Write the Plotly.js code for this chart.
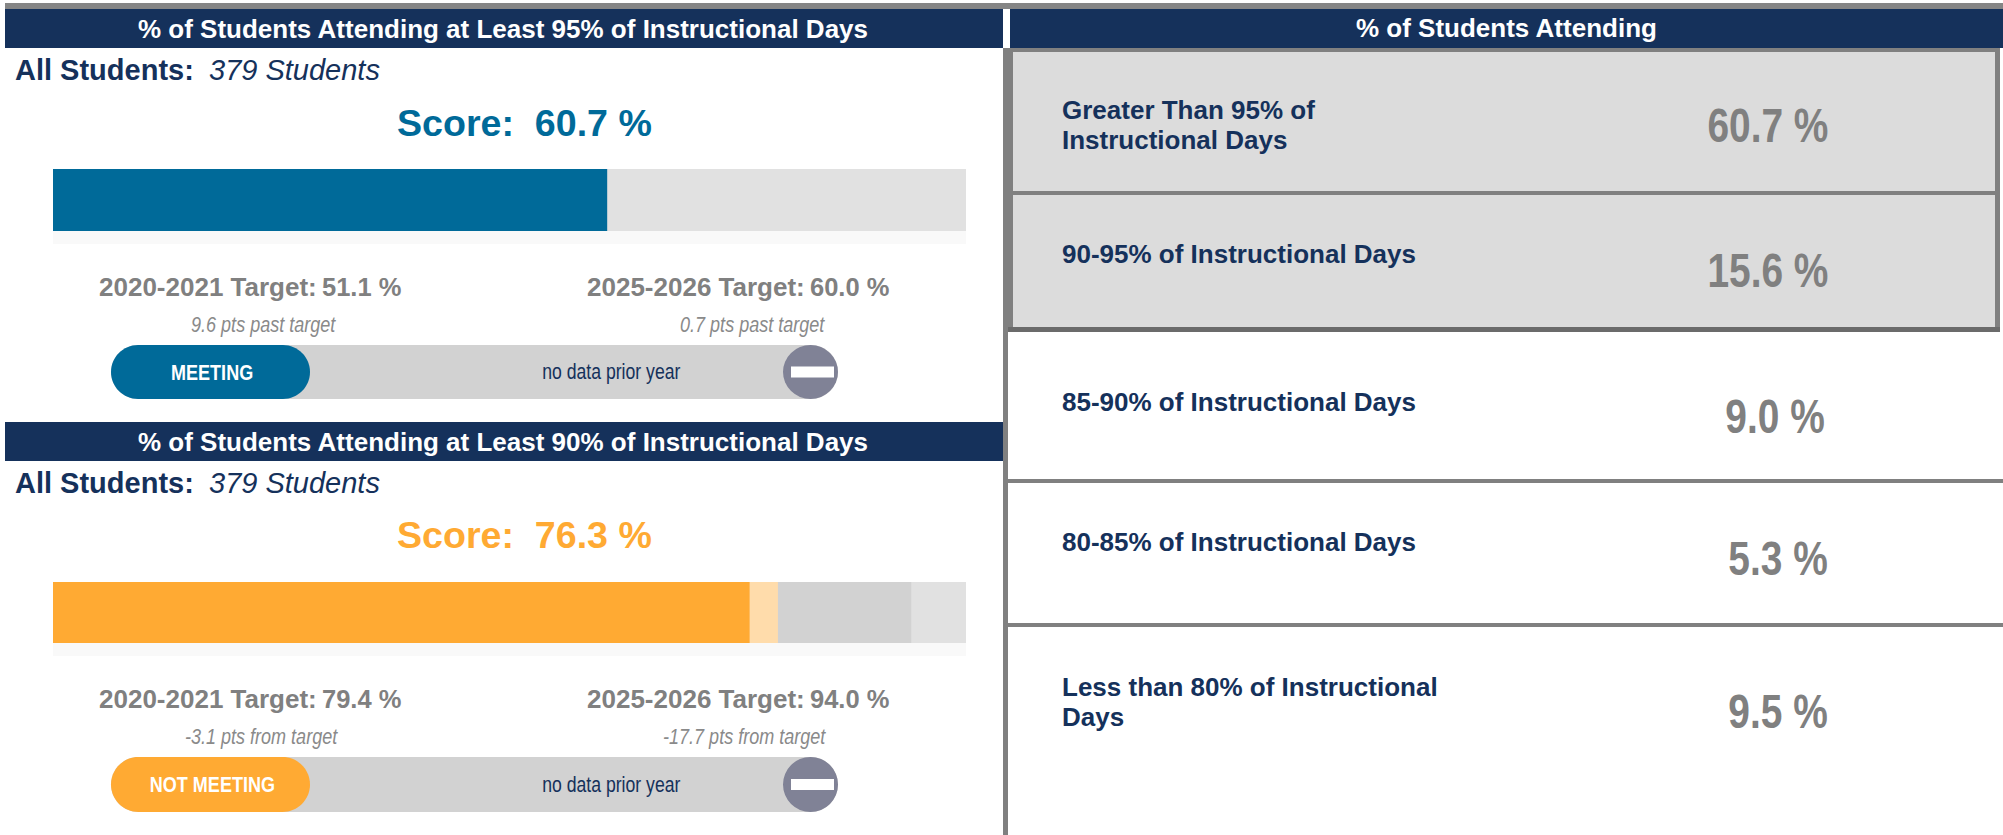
<!DOCTYPE html>
<html><head><meta charset="utf-8">
<script src="https://cdn.plot.ly/plotly-3.0.1.min.js"></script>
<style>html,body{margin:0;padding:0;background:#fff;overflow:hidden}#c{width:2003px;height:835px}</style>
</head><body><div id="c"></div>
<script>
var panelTitles = ['% of Students Attending at Least 95% of Instructional Days','% of Students Attending at Least 90% of Instructional Days'];
var groupLabel = 'All Students:';
var groupCount = '379 Students';
var scores = [60.7, 76.3];
var target2021 = [51.1, 79.4];
var target2026 = [60.0, 94.0];
var scale = [100, 100];
var deltaNotes2021 = ['9.6 pts past target','-3.1 pts from target'];
var deltaNotes2026 = ['0.7 pts past target','-17.7 pts from target'];
var statuses = ['MEETING','NOT MEETING'];
var priorNote = 'no data prior year';
var tableTitle = '% of Students Attending';
var bandLabels = [['Greater Than 95% of','Instructional Days'],['90-95% of Instructional Days'],['85-90% of Instructional Days'],['80-85% of Instructional Days'],['Less than 80% of Instructional','Days']];
var bandValues = [60.7, 15.6, 9.0, 5.3, 9.5];

var W=2003,H=835,NAVY='#15315b',GREY='#808080';
var accent=['#006a99','#ffaa33'], accentLight=['#006a99','#ffdcab'];
var PX=function(x){return x/W}, PY=function(y){return 1-y/H};
var shapes=[],ann=[],narrow=[];
function rect(x0,y0,x1,y1,c,layer){shapes.push({type:'rect',xref:'paper',yref:'paper',x0:PX(x0),x1:PX(x1),y0:PY(y0),y1:PY(y1),fillcolor:c,line:{width:0},layer:layer||'below'});}
function pill(x0,y0,x1,y1,c){var r=(y1-y0)/2,k=r*0.45,f=function(x,y){return PX(x)+','+PY(y)};
 shapes.push({type:'path',xref:'paper',yref:'paper',fillcolor:c,line:{width:0},layer:'below',path:
 'M'+f(x0+r,y0)+' L'+f(x1-r,y0)+' C'+f(x1-k,y0)+' '+f(x1,y0+k)+' '+f(x1,y0+r)+' C'+f(x1,y1-k)+' '+f(x1-k,y1)+' '+f(x1-r,y1)+' L'+f(x0+r,y1)+' C'+f(x0+k,y1)+' '+f(x0,y1-k)+' '+f(x0,y0+r)+' C'+f(x0,y0+k)+' '+f(x0+k,y0)+' '+f(x0+r,y0)+' Z'});}
function circle(x0,y0,x1,y1,c){shapes.push({type:'circle',xref:'paper',yref:'paper',x0:PX(x0),x1:PX(x1),y0:PY(y0),y1:PY(y1),fillcolor:c,line:{width:0},layer:'below'});}
function txt(t,x,y,size,color,anchor,squeeze){anchor=anchor||'center';
 if(squeeze)narrow.push({i:ann.length,a:anchor,s:squeeze});
 ann.push({text:t,xref:'paper',yref:'paper',x:PX(x),y:PY(y),xanchor:anchor,yanchor:'middle',showarrow:false,borderpad:0,
 font:{family:'"Liberation Sans", Arial, sans-serif',size:size,color:color}});}
var N=0.82;

// frame
rect(5,3,W,9,'#858585');
var panelY=[{head:[9,48],all:70,score:123,bar:[169,231],band:244,tgt:287,sub:324,pill:[345,399]},
            {head:[422,461],all:483,score:535,bar:[582,643],band:656,tgt:699,sub:736,pill:[757,812]}];
var BX0=53,BX1=966;
var traces=[];
panelY.forEach(function(p,i){
  rect(5,p.head[0],1003,p.head[1],NAVY);
  txt('<b>'+panelTitles[i]+'</b>',503,(p.head[0]+p.head[1])/2,26,'#fff');
  txt('<b>'+groupLabel+'</b>',14,p.all,29,NAVY,'left');
  txt('<i>'+groupCount+'</i>',208,p.all,29,NAVY,'left');
  txt('<b>Score:  '+scores[i].toFixed(1)+' %</b>',524,p.score,37.6,accent[i]);
  rect(BX0,p.bar[1],BX1,p.band,'#f9f9f9');
  txt('<b>2020-2021 Target:</b>',97.5,p.tgt,26,GREY,'left');
  txt('<b>'+target2021[i].toFixed(1)+' %</b>',320.5,p.tgt,25.5,GREY,'left');
  txt('<b>2025-2026 Target:</b>',585.5,p.tgt,26,GREY,'left');
  txt('<b>'+target2026[i].toFixed(1)+' %</b>',808.5,p.tgt,25.5,GREY,'left');
  txt('<i>'+deltaNotes2021[i]+'</i>',i?261.5:263.5,p.sub,22,'#8a8a8a','center',N);
  txt('<i>'+deltaNotes2026[i]+'</i>',i?744.5:752,p.sub,22,'#8a8a8a','center',N);
  pill(111,p.pill[0],838,p.pill[1],'#d2d2d2');
  pill(111,p.pill[0],310,p.pill[1],accent[i]);
  circle(783,p.pill[0],838,p.pill[1],'#808296');
  var my=(p.pill[0]+p.pill[1])/2;
  rect(791,my-5.5,834,my+5.5,'#fff');
  txt('<b>'+statuses[i]+'</b>',212,my,22,'#fff','center',N);
  txt(priorNote,611,my,21.5,NAVY,'center',N);
  var xa=i?'x2':'x',ya=i?'y2':'y';
  [[scale,'#e1e1e1'],[target2026,'#d2d2d2'],[target2021,accentLight[i]],[scores,accent[i]]].forEach(function(l){
    traces.push({type:'bar',orientation:'h',x:[l[0][i]],y:['score'],xaxis:xa,yaxis:ya,width:1,
      marker:{color:l[1],opacity:1,line:{width:0}},hoverinfo:'skip',showlegend:false});
  });
});

// right table
rect(1003,48,1008,H,'#808080');
rect(1010,9,W,48,NAVY);
txt('<b>'+tableTitle+'</b>',1506,28,26,'#fff');
rect(1008,48,2000,332,'#808080');
rect(1008,327,2000,332,'#6b6b6b');
rect(1013,52,1995,191,'#dcdcdc');
rect(1013,195,1995,327,'#dcdcdc');
rect(1008,479,W,483,'#808080');
rect(1008,623,W,627,'#808080');
var labelY=[[110,140],[254],[402],[542],[687,717]];
var valueY=[126,270,416,558,711];
var valueR=[1829,1829,1826,1829,1829];
bandLabels.forEach(function(lines,i){
  lines.forEach(function(s,j){txt('<b>'+s+'</b>',1061,labelY[i][j],26,NAVY,'left');});
  txt('<b>'+bandValues[i].toFixed(1)+' %</b>',valueR[i],valueY[i],48,GREY,'right',0.81);
});

function ax(dom,rng){return {domain:dom,range:rng,visible:false,fixedrange:true};}
var layout={width:W,height:H,margin:{l:0,r:0,t:0,b:0,pad:0},paper_bgcolor:'#fff',plot_bgcolor:'rgba(0,0,0,0)',barmode:'overlay',showlegend:false,
 xaxis:Object.assign(ax([PX(BX0),PX(BX1)],[0,100]),{anchor:'y'}),
 yaxis:Object.assign(ax([PY(panelY[0].bar[1]),PY(panelY[0].bar[0])],[-0.5,0.5]),{anchor:'x',type:'category'}),
 xaxis2:Object.assign(ax([PX(BX0),PX(BX1)],[0,100]),{anchor:'y2'}),
 yaxis2:Object.assign(ax([PY(panelY[1].bar[1]),PY(panelY[1].bar[0])],[-0.5,0.5]),{anchor:'x2',type:'category'}),
 shapes:shapes,annotations:ann};
Plotly.newPlot('c',traces,layout,{displayModeBar:false,staticPlot:true}).then(function(){
  var nodes=document.querySelectorAll('#c .annotation');
  narrow.forEach(function(n){
    var t=nodes[n.i]&&nodes[n.i].querySelector('text');
    if(!t)return;
    t.style.transformBox='fill-box';
    t.style.transformOrigin=n.a+' center';
    t.style.transform='scaleX('+n.s+')';
  });
});
</script></body></html>
